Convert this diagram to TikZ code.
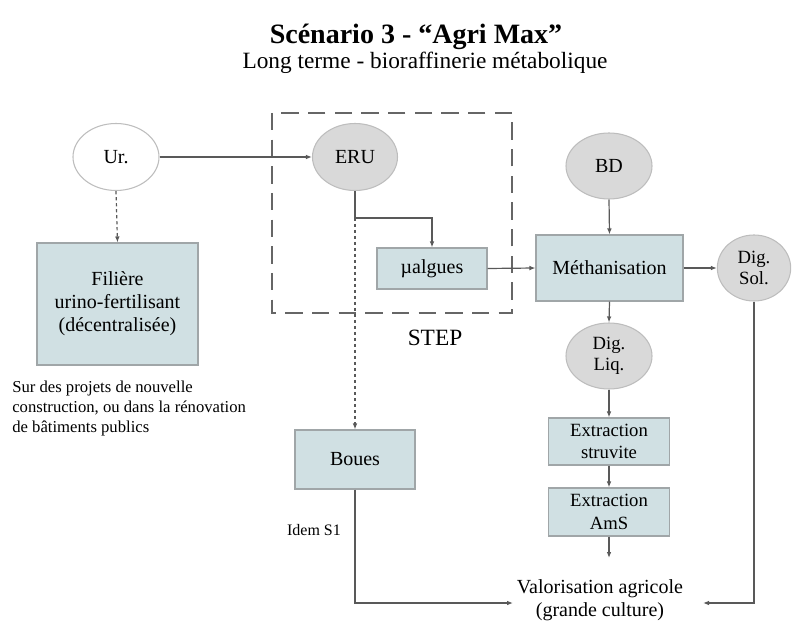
\documentclass[tikz,border=0pt]{standalone}
\usepackage{fontspec}
\setmainfont{Liberation Serif}
\usetikzlibrary{shapes.geometric,arrows.meta}
\definecolor{boxfill}{HTML}{D0E0E3}
\definecolor{boxline}{HTML}{A0A6A8}
\definecolor{ellfill}{HTML}{D9D9D9}
\definecolor{ellline}{HTML}{BDBDBD}
\definecolor{conn}{HTML}{595959}
\definecolor{stepline}{HTML}{666666}
\tikzset{
  procbox/.style={rectangle,draw=boxline,fill=boxfill,line width=0.8pt,inner sep=0pt,align=center,font=\fontsize{15}{17.25}\selectfont},
  smallbox/.style={procbox,font=\fontsize{14}{17}\selectfont},
  ell/.style={ellipse,draw=ellline,fill=ellfill,line width=0.8pt,inner sep=0pt,align=center,font=\fontsize{15}{17}\selectfont},
  conline/.style={draw=conn,line width=0.9pt},
  conarrow/.style={conline,-{Latex[length=4.5pt,width=3.5pt]}},
  dasharrow/.style={conarrow,dash pattern=on 2.5pt off 2pt},
  dashline/.style={conline,dash pattern=on 2.5pt off 2pt},
  plain/.style={inner sep=0pt,align=center}
}
\begin{document}
\begin{tikzpicture}[x=0.75pt,y=-0.75pt]
\useasboundingbox (0,0) rectangle (792,623);
% titles
\node[plain,font=\fontsize{21}{24}\selectfont\bfseries] (title) at (416,37) {Scénario 3 - “Agri Max”};
\node[plain,font=\fontsize{17.5}{20}\selectfont] (subtitle) at (425,63) {Long terme - bioraffinerie métabolique};
% STEP box
\draw[stepline,line width=2.2pt,dash pattern=on 13pt off 7pt] (272,113) rectangle (512,313);
\node[plain,font=\fontsize{17.5}{20}\selectfont] (steplbl) at (435,338) {STEP};
% nodes
\node[ell,draw=ellline,fill=white,minimum width=64.5pt,minimum height=50.25pt] (ur) at (116,157) {Ur.};
\node[ell,minimum width=63.75pt,minimum height=50.25pt] (eru) at (355,157) {ERU};
\node[ell,minimum width=64.5pt,minimum height=49.5pt] (bd) at (609,166) {BD};
\node[ell,minimum width=55pt,minimum height=49.5pt,font=\fontsize{14}{16}\selectfont] (digsol) at (754,268) {Dig.\\Sol.};
\node[ell,minimum width=64.5pt,minimum height=49.5pt,font=\fontsize{14}{16}\selectfont] (digliq) at (609,356) {Dig.\\Liq.};
\node[procbox,minimum width=120.75pt,minimum height=91.5pt] (fil) at (117.5,304) {Filière\\urino-fertilisant\\(décentralisée)};
\node[procbox,minimum width=82.5pt,minimum height=30.75pt] (malg) at (432,268.5) {µalgues};
\node[procbox,minimum width=90pt,minimum height=44.25pt] (boues) at (355,459.5) {Boues};
\node[procbox,minimum width=110.25pt,minimum height=49.5pt] (meth) at (609.5,268) {Méthanisation};
\node[smallbox,minimum width=90.75pt,minimum height=35.25pt] (struv) at (609,441.5) {Extraction\\struvite};
\node[smallbox,minimum width=90.75pt,minimum height=36pt] (ams) at (609,512) {Extraction\\AmS};
% texts
\node[plain,align=left,anchor=west,font=\fontsize{12.5}{15}\selectfont] (note) at (12,408) {Sur des projets de nouvelle\\construction, ou dans la rénovation\\de bâtiments publics};
\node[plain,font=\fontsize{12}{14}\selectfont] (idem) at (314,530) {Idem S1};
\node[plain,font=\fontsize{15}{17.5}\selectfont] (valo) at (600,600) {Valorisation agricole\\(grande culture)};
% coordinates
\coordinate (split) at (355,218);
\coordinate (valL) at (513,603);
\coordinate (valR) at (703,603);
\coordinate (amsEnd) at (609,558);
% connectors
\draw[conarrow] (ur.east) -- (eru.west);
\draw[dasharrow] (ur.south) -- (fil.north);
\draw[conline] (eru.south) -- (split);
\draw[conarrow] (split) -| (malg.north);
\draw[dasharrow] (split) -- (boues.north);
\draw[conarrow] (malg.east) -- (meth.west);
\draw[conarrow] (bd.south) -- (meth.north);
\draw[conarrow] (meth.east) -- (digsol.west);
\draw[conarrow] (meth.south) -- (digliq.north);
\draw[conarrow] (digliq.south) -- (struv.north);
\draw[conarrow] (struv.south) -- (ams.north);
\draw[conarrow] (ams.south) -- (amsEnd);
\draw[conarrow] (boues.south) |- (valL);
\draw[conarrow] (digsol.south) |- (valR);
\end{tikzpicture}
\end{document}
